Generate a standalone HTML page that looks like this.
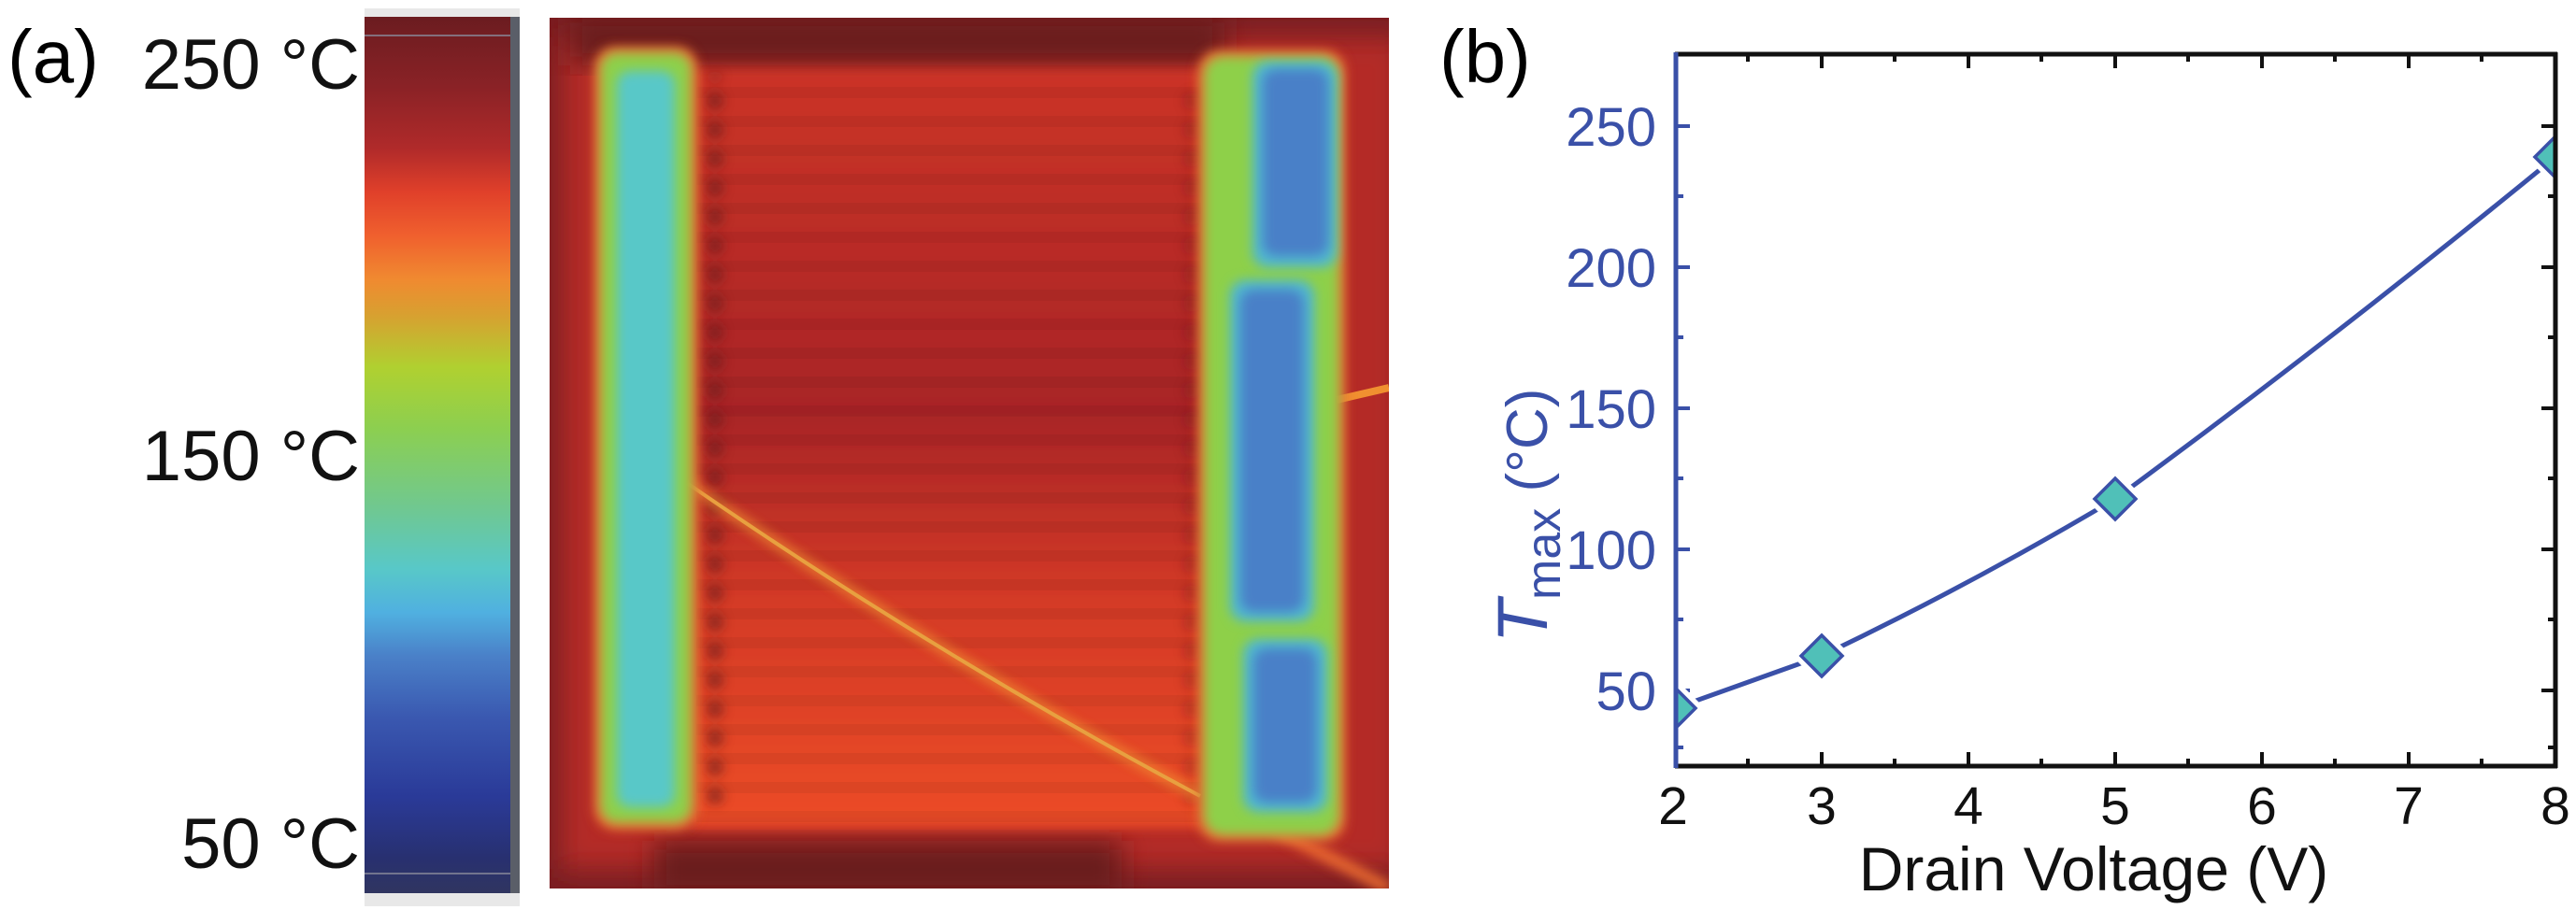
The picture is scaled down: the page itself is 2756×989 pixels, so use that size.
<!DOCTYPE html>
<html><head><meta charset="utf-8"><style>
html,body{margin:0;padding:0;background:#fff}
svg{display:block}
text{font-family:"Liberation Sans",Arial,sans-serif}
</style></head><body>
<svg width="2756" height="989" viewBox="0 0 2756 989" xmlns="http://www.w3.org/2000/svg">
<defs>
<linearGradient id="cb" x1="0" y1="0" x2="0" y2="1">
<stop offset="0" stop-color="#6b1c20"/>
<stop offset="0.08" stop-color="#8a2226"/>
<stop offset="0.15" stop-color="#b02a2a"/>
<stop offset="0.2" stop-color="#e0402a"/>
<stop offset="0.25" stop-color="#f0602e"/>
<stop offset="0.3" stop-color="#f08a30"/>
<stop offset="0.34" stop-color="#d8a030"/>
<stop offset="0.4" stop-color="#b0d030"/>
<stop offset="0.47" stop-color="#8ccf50"/>
<stop offset="0.56" stop-color="#70c890"/>
<stop offset="0.63" stop-color="#58c8c8"/>
<stop offset="0.68" stop-color="#50b0e0"/>
<stop offset="0.73" stop-color="#4a80c8"/>
<stop offset="0.8" stop-color="#3a58b0"/>
<stop offset="0.89" stop-color="#2a3a98"/>
<stop offset="0.96" stop-color="#283070"/>
<stop offset="1" stop-color="#303560"/>
</linearGradient>
<linearGradient id="mid" x1="0" y1="0" x2="0" y2="1">
<stop offset="0" stop-color="#cc3428"/>
<stop offset="0.45" stop-color="#a82428"/>
<stop offset="0.7" stop-color="#d43a28"/>
<stop offset="1" stop-color="#ec4c28"/>
</linearGradient>
<filter id="bl" x="-20%" y="-20%" width="140%" height="140%"><feGaussianBlur stdDeviation="6"/></filter>
<filter id="bl2" x="-20%" y="-20%" width="140%" height="140%"><feGaussianBlur stdDeviation="14"/></filter>
<pattern id="stripes" width="10" height="31" patternUnits="userSpaceOnUse">
<rect width="10" height="12" fill="#000" opacity="0.05"/>
</pattern>
<pattern id="dots" width="30" height="31" patternUnits="userSpaceOnUse">
<circle cx="15" cy="15" r="9" fill="#6a1a1e"/>
</pattern>
<clipPath id="thc"><rect x="588" y="19" width="898" height="932"/></clipPath>
<clipPath id="pc"><rect x="1792" y="58" width="942" height="762"/></clipPath>
</defs>

<!-- Panel a -->
<text x="8" y="88" font-size="80">(a)</text>
<rect x="390" y="9" width="166" height="961" fill="#e8e8e8"/>
<rect x="390" y="18" width="156" height="938" fill="url(#cb)"/>
<rect x="546" y="18" width="10" height="938" fill="#5a5e68"/>
<line x1="390" y1="38" x2="546" y2="38" stroke="#8a8a9a" stroke-width="1.5"/>
<line x1="390" y1="935" x2="546" y2="935" stroke="#8a8a9a" stroke-width="1.5"/>
<g font-size="76" text-anchor="end" fill="#111">
<text x="385" y="95">250 °C</text>
<text x="385" y="514">150 °C</text>
<text x="385" y="929">50 °C</text>
</g>

<g clip-path="url(#thc)">
<rect x="588" y="19" width="898" height="932" fill="#7a1e22"/>
<rect x="600" y="40" width="900" height="890" fill="#b42a26" filter="url(#bl2)"/>
<rect x="610" y="15" width="700" height="55" fill="#6a1a1e" filter="url(#bl2)"/>
<rect x="700" y="900" width="500" height="60" fill="#6a1a1e" filter="url(#bl2)"/>
<rect x="740" y="74" width="550" height="812" fill="url(#mid)" filter="url(#bl)"/>
<rect x="745" y="80" width="540" height="800" fill="url(#stripes)"/>
<g opacity="0.7" filter="url(#bl)">
<rect x="755" y="80" width="30" height="780" fill="url(#dots)"/>
<rect x="1255" y="90" width="30" height="770" fill="url(#dots)" opacity="0.5"/>
</g>
<!-- diagonal line -->
<path d="M735 517 Q1000 700 1284 852" stroke="#f09030" stroke-width="9" fill="none" filter="url(#bl)" opacity="0.9"/>
<path d="M735 517 Q1000 700 1284 852" stroke="#e8a040" stroke-width="4" fill="none"/>
<path d="M1430 428 L1486 415" stroke="#f09030" stroke-width="8" fill="none"/>
<path d="M1365 888 L1486 951" stroke="#f07030" stroke-width="12" fill="none" filter="url(#bl)"/>
<!-- left bar -->
<rect x="636" y="50" width="110" height="838" rx="22" fill="#f06a30" filter="url(#bl)"/>
<rect x="642" y="56" width="98" height="825" rx="18" fill="#8ed04a" filter="url(#bl)"/>
<rect x="660" y="76" width="62" height="788" rx="14" fill="#58c8c8" filter="url(#bl)"/>
<!-- right bar -->
<rect x="1282" y="54" width="157" height="846" rx="22" fill="#f06a30" filter="url(#bl)"/>
<rect x="1288" y="60" width="145" height="834" rx="20" fill="#8ed04a" filter="url(#bl)"/>
<rect x="1340" y="66" width="90" height="220" rx="16" fill="#50b8d0" filter="url(#bl)"/>
<rect x="1351" y="74" width="70" height="200" rx="14" fill="#4a80c8" filter="url(#bl)"/>
<rect x="1316" y="300" width="90" height="365" rx="16" fill="#50b8d0" filter="url(#bl)"/>
<rect x="1327" y="310" width="68" height="345" rx="14" fill="#4a80c8" filter="url(#bl)"/>
<rect x="1330" y="684" width="90" height="185" rx="16" fill="#50b8d0" filter="url(#bl)"/>
<rect x="1341" y="694" width="68" height="165" rx="14" fill="#4a80c8" filter="url(#bl)"/>
</g>

<!-- Panel b -->
<text x="1540" y="88" font-size="80">(b)</text>
<g stroke="#111" stroke-width="5">
<line x1="1792" y1="58" x2="2736" y2="58"/>
<line x1="1792" y1="820" x2="2736" y2="820"/>
<line x1="2734" y1="56" x2="2734" y2="822"/>
</g>
<g stroke="#111" stroke-width="4">
<path d="M1949 820v-15M2106 820v-15M2263 820v-15M2420 820v-15M2577 820v-15M1949 58v15M2106 58v15M2263 58v15M2420 58v15M2577 58v15"/>
<path d="M1870 820v-8M2027 820v-8M2184 820v-8M2341 820v-8M2498 820v-8M2655 820v-8M1870 58v8M2027 58v8M2184 58v8M2341 58v8M2498 58v8M2655 58v8"/>
<path d="M2734 739h-15M2734 588h-15M2734 437h-15M2734 286h-15M2734 135h-15"/>
<path d="M2734 800h-8M2734 663h-8M2734 512h-8M2734 361h-8M2734 210h-8"/>
</g>
<g stroke="#3a50a8" stroke-width="4">
<line x1="1793" y1="56" x2="1793" y2="822" stroke-width="5"/>
<path d="M1793 739h15M1793 588h15M1793 437h15M1793 286h15M1793 135h15"/>
<path d="M1793 800h8M1793 663h8M1793 512h8M1793 361h8M1793 210h8"/>
</g>
<g font-size="58" fill="#3a50a8" text-anchor="end">
<text x="1772" y="760">50</text>
<text x="1772" y="609">100</text>
<text x="1772" y="458">150</text>
<text x="1772" y="307">200</text>
<text x="1772" y="156">250</text>
</g>
<g font-size="57" fill="#111" text-anchor="middle">
<text x="1790" y="882">2</text>
<text x="1949" y="882">3</text>
<text x="2106" y="882">4</text>
<text x="2263" y="882">5</text>
<text x="2420" y="882">6</text>
<text x="2577" y="882">7</text>
<text x="2734" y="882">8</text>
</g>
<text x="2240" y="953" font-size="66" fill="#111" text-anchor="middle">Drain Voltage (V)</text>
<text transform="translate(1655 552) rotate(-90)" text-anchor="middle" fill="#3a50a8"><tspan font-size="76" font-style="italic">T</tspan><tspan font-size="52" dy="14">max</tspan><tspan font-size="62" dy="-14"> (°C)</tspan></text>

<g clip-path="url(#pc)">
<path d="M1792 758 L1949 702 Q2110 625 2263 534 Q2500 360 2734 168" stroke="#3a50a8" stroke-width="5" fill="none"/>
<g stroke-linejoin="miter">
<path d="M1792 736l22 22l-22 22l-22 -22z" fill="#50c0b8" stroke="#fff" stroke-width="14"/>
<path d="M1792 736l22 22l-22 22l-22 -22z" fill="#50c0b8" stroke="#3a50a8" stroke-width="3.5"/>
<path d="M1949 680l22 22l-22 22l-22 -22z" fill="#50c0b8" stroke="#fff" stroke-width="14"/>
<path d="M1949 680l22 22l-22 22l-22 -22z" fill="#50c0b8" stroke="#3a50a8" stroke-width="3.5"/>
<path d="M2263 512l22 22l-22 22l-22 -22z" fill="#50c0b8" stroke="#fff" stroke-width="14"/>
<path d="M2263 512l22 22l-22 22l-22 -22z" fill="#50c0b8" stroke="#3a50a8" stroke-width="3.5"/>
<path d="M2734 146l22 22l-22 22l-22 -22z" fill="#50c0b8" stroke="#fff" stroke-width="14"/>
<path d="M2734 146l22 22l-22 22l-22 -22z" fill="#50c0b8" stroke="#3a50a8" stroke-width="3.5"/>
</g>
</g>
<line x1="1793" y1="720" x2="1793" y2="800" stroke="#3a50a8" stroke-width="5"/>
<line x1="2734" y1="130" x2="2734" y2="210" stroke="#111" stroke-width="5"/>
</svg>
</body></html>
